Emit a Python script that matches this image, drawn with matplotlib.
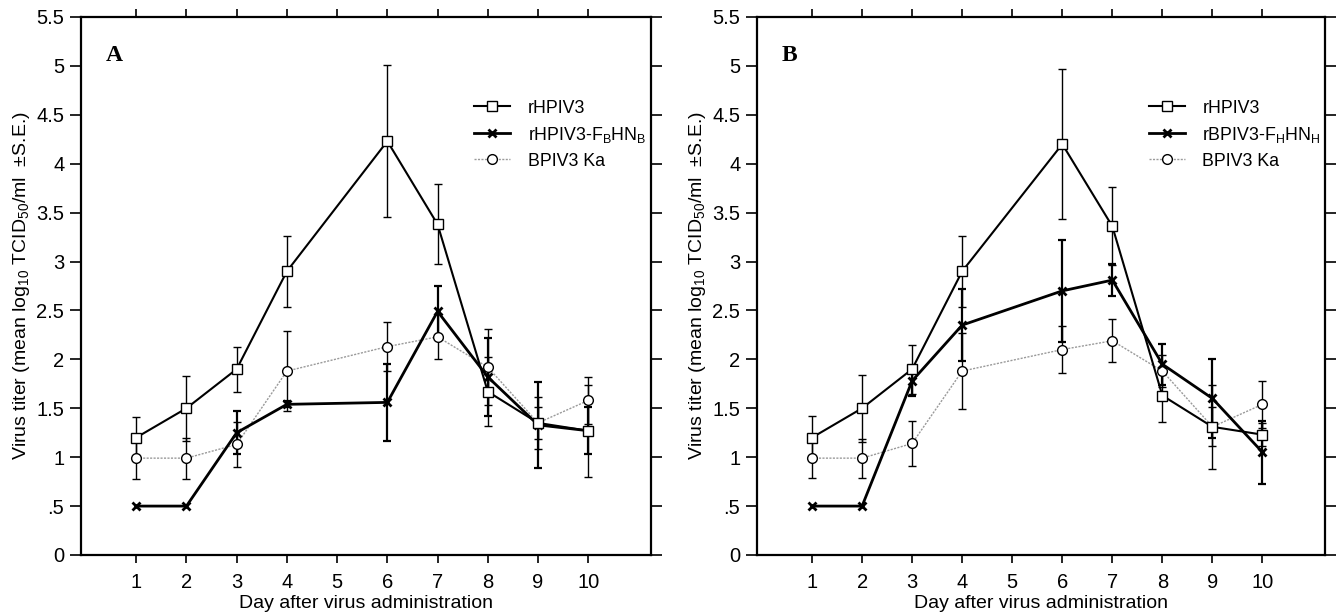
# virus_titer_panels.py
# Mean virus titer by day after administration, two panels (A, B)

import numpy as np
import matplotlib
matplotlib.use("Agg")
import matplotlib.pyplot as plt

plt.rcParams["font.family"] = ["Liberation Sans", "DejaVu Sans"]
plt.rcParams["mathtext.fontset"] = "custom"
plt.rcParams["mathtext.rm"] = "Liberation Sans"
plt.rcParams["mathtext.it"] = "Liberation Sans:italic"
plt.rcParams["mathtext.bf"] = "Liberation Sans:bold"

days = [1, 2, 3, 4, 6, 7, 8, 9, 10]
day_ticks = [1, 2, 3, 4, 5, 6, 7, 8, 9, 10]
y_ticks = [0, 0.5, 1, 1.5, 2, 2.5, 3, 3.5, 4, 4.5, 5, 5.5]
y_tick_labels = ["0", ".5", "1", "1.5", "2", "2.5", "3", "3.5", "4", "4.5", "5", "5.5"]

# panel A
a_rhpiv3 = [1.20, 1.50, 1.90, 2.90, 4.23, 3.38, 1.67, 1.35, 1.27]
a_rhpiv3_se = [0.21, 0.33, 0.23, 0.36, 0.78, 0.41, 0.35, 0.16, 0.47]
a_chim = [0.50, 0.50, 1.25, 1.54, 1.56, 2.49, 1.82, 1.33, 1.27]
a_chim_se = [0, 0, 0.22, 0.03, 0.39, 0.26, 0.40, 0.44, 0.24]
a_bpiv3 = [0.99, 0.99, 1.13, 1.88, 2.13, 2.23, 1.92, 1.35, 1.58]
a_bpiv3_se = [0.21, 0.21, 0.23, 0.41, 0.25, 0.23, 0.39, 0.27, 0.24]

# panel B
b_rhpiv3 = [1.20, 1.50, 1.90, 2.90, 4.20, 3.36, 1.63, 1.31, 1.23]
b_rhpiv3_se = [0.22, 0.34, 0.25, 0.36, 0.77, 0.40, 0.27, 0.20, 0.12]
b_chim = [0.50, 0.50, 1.78, 2.35, 2.70, 2.81, 1.95, 1.60, 1.05]
b_chim_se = [0, 0, 0.15, 0.37, 0.52, 0.16, 0.21, 0.40, 0.32]
b_bpiv3 = [0.99, 0.99, 1.14, 1.88, 2.10, 2.19, 1.88, 1.31, 1.54]
b_bpiv3_se = [0.20, 0.20, 0.23, 0.39, 0.24, 0.22, 0.16, 0.43, 0.24]

TICK_FS = 14.5
LABEL_FS = 14
LEG_FS = 12.8


def err(ax, x, y, se, lw, z):
    x = np.array(x)
    y = np.array(y)
    se = np.array(se)
    keep = se > 0
    ax.errorbar(x[keep], y[keep], yerr=se[keep], fmt="none", ecolor="black",
                elinewidth=lw, capsize=2.7, capthick=lw, zorder=z)


def panel(ax, letter, hp, hp_se, ch, ch_se, bp, bp_se, chim_label):
    err(ax, days, bp, bp_se, 1.0, 2)
    err(ax, days, hp, hp_se, 1.0, 2)
    err(ax, days, ch, ch_se, 1.6, 2)

    ax.plot(days, bp, color="#9a9a9a", lw=1.0, ls=(0, (1.5, 1)), marker="o",
            ms=7, mfc="white", mec="black", mew=1.0, zorder=4, label="BPIV3 Ka")
    ax.plot(days, ch, color="black", lw=2.0, marker="x", ms=6, mew=2.0,
            zorder=5, label=chim_label)
    ax.plot(days, hp, color="black", lw=1.5, marker="s", ms=6.5, mfc="white",
            mec="black", mew=1.0, zorder=6, label="rHPIV3")

    ax.set_xlim(-0.1, 11.25)
    ax.set_ylim(0, 5.5)
    ax.set_xticks(day_ticks)
    ax.set_xticklabels([str(d) for d in day_ticks], fontsize=TICK_FS)
    ax.set_yticks(y_ticks)
    ax.set_yticklabels(y_tick_labels, fontsize=TICK_FS)
    ax.tick_params(axis="x", which="both", direction="out", length=6, width=1.2,
                   top=True, pad=7)
    ax.tick_params(axis="y", which="both", direction="out", length=8, width=1.2,
                   right=True, pad=4)
    for s in ax.spines.values():
        s.set_linewidth(1.6)

    ax.set_xlabel("Day after virus administration", fontsize=LABEL_FS, labelpad=2)
    ax.set_ylabel("Virus titer (mean log$_{10}$ TCID$_{50}$/ml  ±S.E.)",
                  fontsize=LABEL_FS, labelpad=3)
    ax.text(0.043, 0.948, letter, transform=ax.transAxes, fontsize=17,
            fontweight="bold", family="Liberation Serif", va="top", ha="left")

    h, l = ax.get_legend_handles_labels()
    order = [2, 1, 0]
    ax.legend([h[i] for i in order], [l[i] for i in order], loc="upper left",
              bbox_to_anchor=(0.662, 0.876), frameon=False, fontsize=LEG_FS,
              handlelength=2.0, handletextpad=1.0, labelspacing=0.45)


def main():
    fig = plt.figure(figsize=(13.36, 6.14), dpi=100)
    ax_a = fig.add_axes([0.0606, 0.0961, 0.4267, 0.8763])
    ax_b = fig.add_axes([0.5666, 0.0961, 0.4252, 0.8763])

    panel(ax_a, "A", a_rhpiv3, a_rhpiv3_se, a_chim, a_chim_se, a_bpiv3,
          a_bpiv3_se, "rHPIV3-F$_{\\mathrm{B}}$HN$_{\\mathrm{B}}$")
    panel(ax_b, "B", b_rhpiv3, b_rhpiv3_se, b_chim, b_chim_se, b_bpiv3,
          b_bpiv3_se, "rBPIV3-F$_{\\mathrm{H}}$HN$_{\\mathrm{H}}$")

    fig.savefig("out.png", dpi=100)


if __name__ == "__main__":
    main()
